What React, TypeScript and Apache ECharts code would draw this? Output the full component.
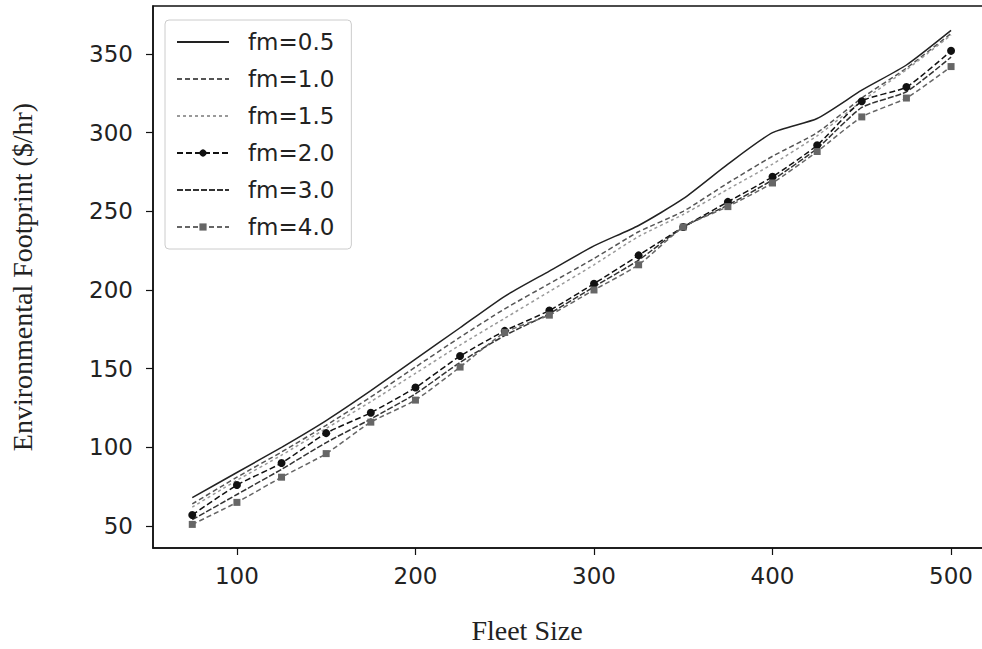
import React, { useEffect, useRef } from "react";
import * as echarts from "echarts";

const fleetSizes = [75, 100, 125, 150, 175, 200, 225, 250, 275, 300, 325, 350, 375, 400, 425, 450, 475, 500];
const fm05 = [68, 84, 100, 117, 136, 156, 176, 196, 212, 228, 241, 258, 280, 300, 309, 327, 343, 365];
const fm10 = [64, 81, 97, 114, 132, 151, 170, 188, 204, 220, 237, 250, 268, 285, 300, 322, 341, 363];
const fm15 = [62, 79, 95, 112, 129, 147, 165, 182, 199, 216, 234, 248, 264, 280, 298, 320, 340, 362];
const fm20 = [57, 76, 90, 109, 122, 138, 158, 174, 187, 204, 222, 240, 256, 272, 292, 320, 329, 352];
const fm30 = [54, 70, 86, 103, 118, 134, 154, 171, 185, 202, 219, 240, 254, 270, 290, 316, 326, 348];
const fm40 = [51, 65, 81, 96, 116, 130, 151, 173, 184, 200, 216, 240, 253, 268, 288, 310, 322, 342];

const xTicks = [100, 200, 300, 400, 500];
const yTicks = [50, 100, 150, 200, 250, 300, 350];
const seriesNames = ["fm=0.5", "fm=1.0", "fm=1.5", "fm=2.0", "fm=3.0", "fm=4.0"];
const withMarkers = ["fm=2.0", "fm=4.0"];

const TICK_FONT = "'DejaVu Sans', sans-serif";
const SERIF = "'Liberation Serif', 'Times New Roman', serif";

export default function App() {
  const ref = useRef<HTMLDivElement>(null);
  useEffect(() => {
    if (!ref.current) return;
    const chart = echarts.init(ref.current, null, { renderer: "svg" });
    const pair = (vals: number[]) => fleetSizes.map((x, i) => [x, vals[i]]);
    const mk = (name: string, vals: number[], color: string, type: any, symbol: string, symbolSize: number) => ({
      name,
      type: "line",
      data: pair(vals),
      symbol,
      symbolSize,
      smooth: 0.2,
      showSymbol: symbol !== "none",
      itemStyle: { color },
      lineStyle: { color, width: 1.5, type },
      emphasis: { disabled: true },
    });
    chart.setOption({
      animation: false,
      backgroundColor: "#ffffff",
      grid: { left: 153, top: 6, bottom: 101, right: 6, show: true, borderColor: "#111", borderWidth: 1.5, backgroundColor: "transparent" },
      legend: {
        orient: "vertical",
        left: 165,
        top: 20,
        padding: [9, 17, 9, 11],
        itemGap: 11,
        itemWidth: 52,
        itemHeight: 9,
        borderColor: "#cccccc",
        borderWidth: 1,
        borderRadius: 4,
        backgroundColor: "rgba(255,255,255,0.85)",
        data: seriesNames.map((n) =>
          withMarkers.includes(n) ? { name: n } : { name: n, itemStyle: { opacity: 0 } }
        ),
        textStyle: { fontFamily: TICK_FONT, fontSize: 23, color: "#222", lineHeight: 26, padding: [0, 0, 0, 14] },
      },
      xAxis: {
        type: "value",
        min: 53,
        max: 521.25,
        splitLine: { show: false },
        axisLine: { show: true, lineStyle: { color: "#111", width: 1.5 } },
        axisTick: { show: true, length: 7, lineStyle: { color: "#111", width: 1.2 }, customValues: xTicks },
        axisLabel: { fontFamily: TICK_FONT, fontSize: 23, color: "#222", margin: 16, customValues: xTicks },
      },
      yAxis: {
        type: "value",
        min: 36,
        max: 380.5,
        splitLine: { show: false },
        axisLine: { show: true, lineStyle: { color: "#111", width: 1.5 } },
        axisTick: { show: true, length: 7, lineStyle: { color: "#111", width: 1.2 }, customValues: yTicks },
        axisLabel: { fontFamily: TICK_FONT, fontSize: 23, color: "#222", margin: 20, customValues: yTicks },
      },
      graphic: [
        {
          type: "text",
          x: 527,
          y: 630,
          style: { text: "Fleet Size", font: `28px ${SERIF}`, fill: "#222", textAlign: "center", textVerticalAlign: "middle" },
        },
        {
          type: "text",
          x: 22,
          y: 277,
          rotation: Math.PI / 2,
          style: { text: "Environmental Footprint ($/hr)", font: `28px ${SERIF}`, fill: "#222", textAlign: "center", textVerticalAlign: "middle" },
        },
      ],
      series: [
        mk("fm=0.5", fm05, "#222222", "solid", "none", 0),
        mk("fm=1.0", fm10, "#555555", [5, 3], "none", 0),
        mk("fm=1.5", fm15, "#9a9a9a", [3, 3], "none", 0),
        mk("fm=2.0", fm20, "#111111", [6, 3], "circle", 8),
        mk("fm=3.0", fm30, "#333333", [6, 2], "none", 0),
        mk("fm=4.0", fm40, "#666666", [5, 3], "rect", 7),
      ],
    });
    return () => chart.dispose();
  }, []);
  return <div ref={ref} style={{ position: "fixed", left: 0, top: 0, width: 995, height: 649 }} />;
}
